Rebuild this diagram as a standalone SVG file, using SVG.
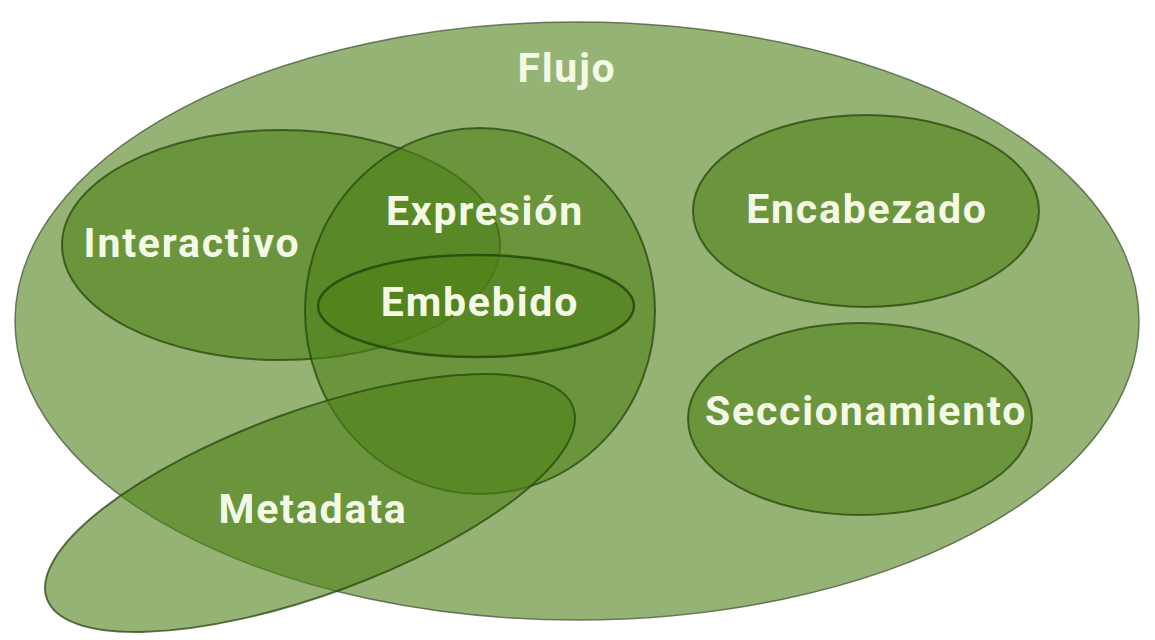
<svg xmlns="http://www.w3.org/2000/svg" width="1155" height="640" viewBox="0 0 1155 640">
<style>
.set{fill:rgb(78,128,24);fill-opacity:0.6;stroke:rgb(40,70,12);stroke-opacity:0.75;stroke-width:2}
.outer{stroke:rgb(70,85,55);stroke-width:1.5}
.emb{stroke-width:2.5;stroke-opacity:0.85}
.lbl{font-family:Roboto,"Liberation Sans",sans-serif;font-weight:bold;font-size:41px;letter-spacing:1.8px;fill:#f4f9e6;text-anchor:middle}
</style>
<rect width="1155" height="640" fill="#ffffff"/>
<g id="flujo"><ellipse class="set outer" cx="577" cy="321" rx="562" ry="299"/></g>
<g id="interactivo"><ellipse class="set" cx="281" cy="245" rx="219" ry="115"/></g>
<g id="expresion"><ellipse class="set" cx="480" cy="311" rx="175" ry="183"/></g>
<g id="embebido"><ellipse class="set emb" cx="476" cy="306" rx="158" ry="51"/></g>
<g id="metadata"><ellipse class="set" cx="310" cy="503" rx="280" ry="92" transform="rotate(-20 310 503)"/></g>
<g id="encabezado"><ellipse class="set" cx="866" cy="211" rx="173" ry="96"/></g>
<g id="seccionamiento"><ellipse class="set" cx="860" cy="419" rx="172" ry="96"/></g>
<g id="connectors"></g>
<g id="labels">
<text class="lbl" x="567" y="82">Flujo</text>
<text class="lbl" x="192" y="257">Interactivo</text>
<text class="lbl" x="485" y="225">Expresión</text>
<text class="lbl" x="480" y="316">Embebido</text>
<text class="lbl" x="313" y="523">Metadata</text>
<text class="lbl" x="867" y="223">Encabezado</text>
<text class="lbl" x="866" y="425">Seccionamiento</text>
</g>
</svg>
